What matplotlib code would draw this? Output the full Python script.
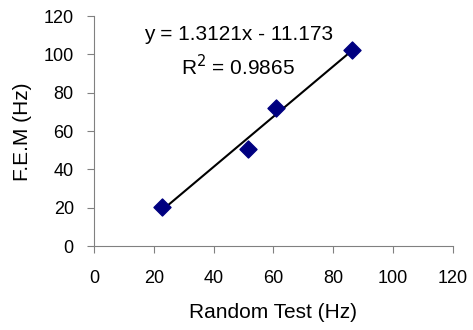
import numpy as np
import matplotlib
matplotlib.use("Agg")
from matplotlib import pyplot as plt

plt.rcParams['font.family'] = ['Liberation Sans', 'DejaVu Sans']

# data
random_test = [22.6, 51.6, 60.9, 86.2]
fem = [20.2, 50.6, 72.1, 102.2]
slope = 1.3121
intercept = -11.173
r2 = 0.9865
ticks = [0, 20, 40, 60, 80, 100, 120]

fig = plt.figure(figsize=(4.73, 3.30), dpi=100)
ax = fig.add_axes([0.1987, 0.2545, 0.759, 0.697])

ax.scatter(random_test, fem, marker='D', s=75, color='#000080', zorder=3)
tx = np.array([min(random_test), max(random_test)])
ax.plot(tx, slope * tx + intercept, color='black', lw=1.5, zorder=2)

ax.text(48.2, 110.6, 'y = 1.3121x - 11.173', ha='center', va='center', fontsize=15)
ax.text(48.2, 93.4, 'R$^2$ = %.4f' % r2, ha='center', va='center', fontsize=15)

ax.set_xlim(0, 120)
ax.set_ylim(0, 120)
ax.set_xticks(ticks)
ax.set_yticks(ticks)
for s in ['top', 'right']:
    ax.spines[s].set_visible(False)
for s in ['left', 'bottom']:
    ax.spines[s].set_color('#808080')
ax.tick_params(axis='both', direction='out', length=5, color='#808080', labelsize=13)
ax.tick_params(axis='x', pad=12)
ax.tick_params(axis='y', pad=9.5)

ax.set_xlabel('Random Test (Hz)', fontsize=15, va='center')
ax.set_ylabel('F.E.M (Hz)', fontsize=15, va='center')
ax.xaxis.set_label_coords(0.5, -0.291)
ax.yaxis.set_label_coords(-0.2, 0.496)

fig.savefig('out.png', dpi=100)
